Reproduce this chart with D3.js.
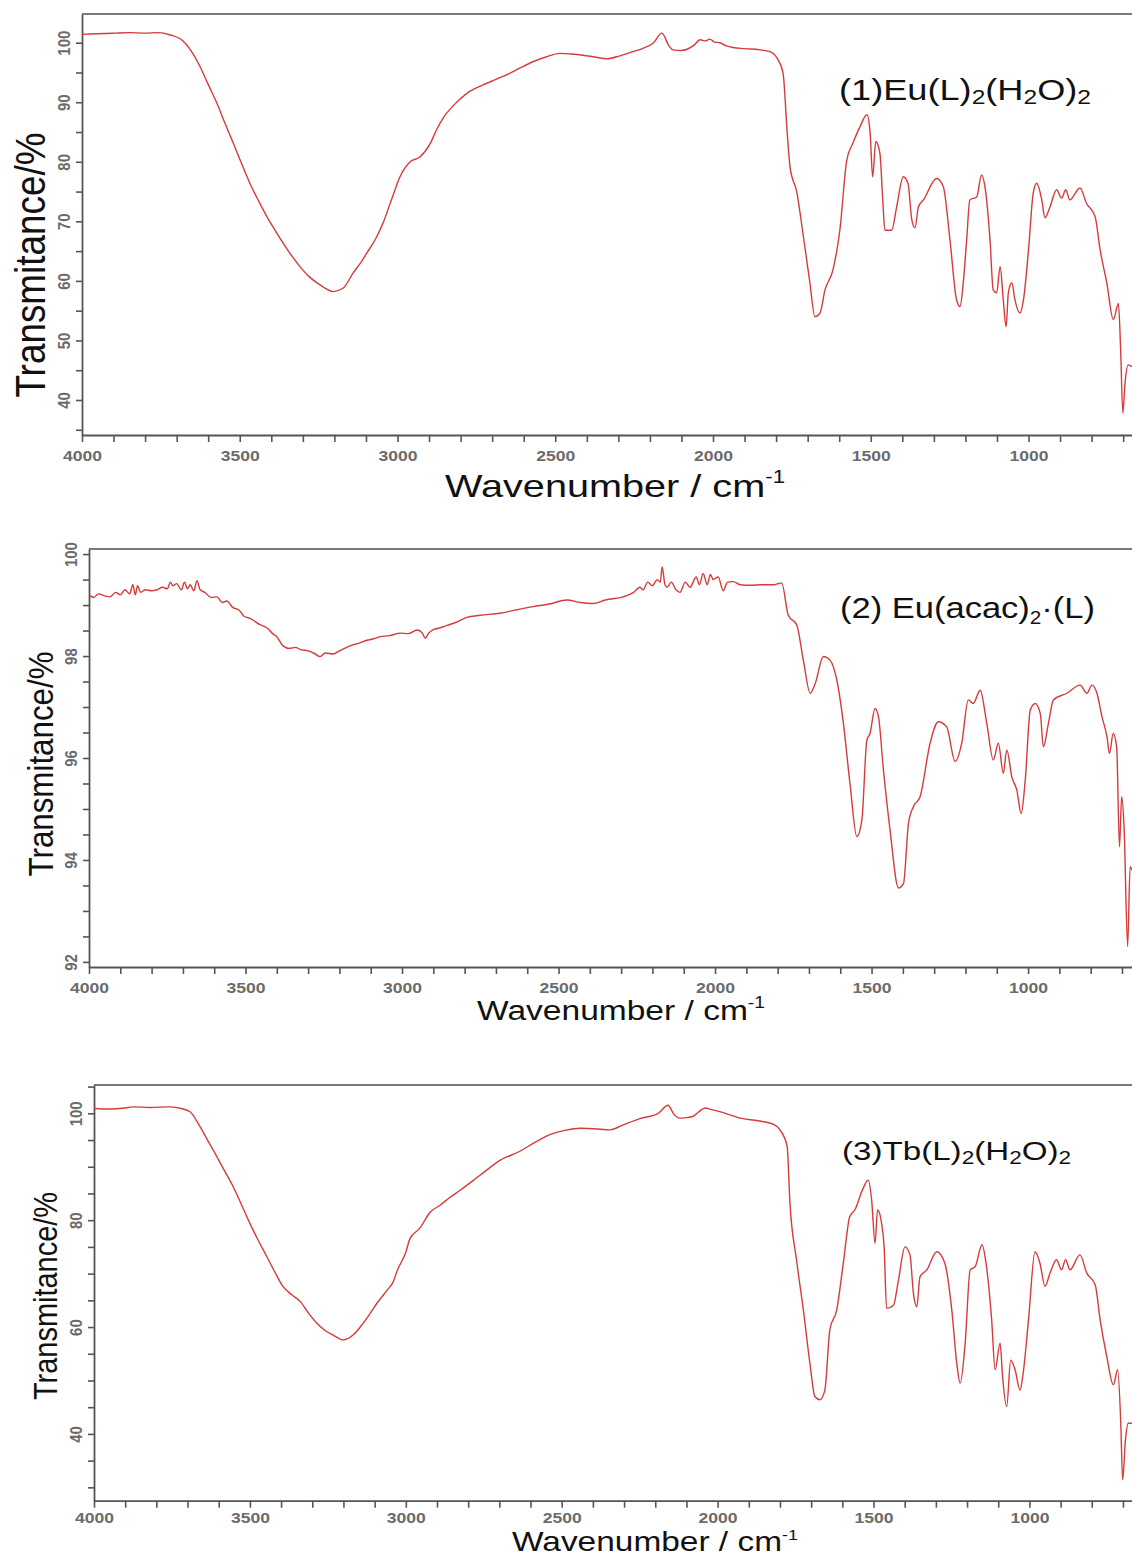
<!DOCTYPE html>
<html>
<head>
<meta charset="utf-8">
<script src="https://cdn.jsdelivr.net/npm/d3@7"></script>
<style>
  body { margin: 0; background: #fff; }
  svg { display: block; font-family: "Liberation Sans", Arial, sans-serif; }
</style>
</head>
<body>
<svg id="chart" width="1132" height="1561"></svg>
<script>
// tick labels
var xLabels = [4000, 3500, 3000, 2500, 2000, 1500, 1000];
var yLabels1 = [40, 50, 60, 70, 80, 90, 100];
var yLabels2 = [92, 94, 96, 98, 100];
var yLabels3 = [40, 60, 80, 100];

// spectra: [wavenumber, transmittance]
var ir1 = [[4000,101.4],[3950,101.5],[3900,101.6],[3850,101.7],[3800,101.6],[3760,101.7],[3720,101.3],[3680,100.3],
  [3650,98.3],[3626,96],[3600,93],[3573,89.9],[3547,86.5],[3521,83.2],[3495,79.8],[3468,76.4],[3440,73.4],
  [3414,70.8],[3388,68.5],[3363,66.4],[3335,64.2],[3309,62.4],[3282,60.8],[3256,59.7],[3230,58.8],[3204,58.2],
  [3172,58.8],[3141,61.3],[3120,62.8],[3097,64.7],[3070,67],[3046,69.7],[3020,73.5],[2992,77.5],[2960,80],
  [2929,80.8],[2897,83],[2875,85.5],[2856,87.3],[2820,89.6],[2780,91.5],[2729,92.9],[2690,93.8],[2643,94.9],
  [2610,95.8],[2571,96.8],[2530,97.6],[2485,98.2],[2450,98.1],[2412,97.9],[2375,97.6],[2336,97.3],[2295,97.8],
  [2254,98.5],[2220,99.1],[2190,99.9],[2162,101.6],[2140,99.5],[2127,98.8],[2100,98.7],[2082,98.9],[2060,99.6],
  [2041,100.5],[2025,100.3],[2010,100.6],[1995,100.1],[1978,100],[1960,99.5],[1937,99.2],[1900,99],[1851,98.8],
  [1820,98.5],[1797,97.4],[1778,94.9],[1765,85],[1756,79.2],[1734,74.8],[1715,68],[1693,59.7],[1677,54],
  [1661,54.6],[1645,58.5],[1620,61.8],[1598,68.5],[1576,80.3],[1556,83.2],[1534,85.9],[1512,87.9],[1502,84.8],
  [1494,77.5],[1484,83.4],[1471,81.4],[1462,73.6],[1455,68.5],[1434,68.5],[1418,72.4],[1397,77.5],[1382,76.4],
  [1370,70.3],[1360,68.9],[1349,72.4],[1333,73.6],[1291,77.2],[1270,75.8],[1249,66.9],[1228,56.8],[1217,55.7],
  [1207,59.6],[1196,66.9],[1186,73.6],[1164,74.1],[1149,77.8],[1138,75.8],[1122,66.9],[1112,58.5],[1101,58],
  [1090,62.4],[1080,56.8],[1071,52.3],[1064,58],[1053,59.7],[1043,56.8],[1027,54.6],[1016,56.8],[1000,65.2],
  [985,74.8],[974,76.4],[958,73.6],[948,70.6],[932,72.4],[911,75.3],[895,73.9],[882,75.3],[869,73.6],[837,75.6],
  [816,73],[789,70.8],[773,65.2],[752,59.7],[731,53.5],[715,56.2],[708,48.4],[701,37.8],[694,42.9],[684,45.9],
  [672,45.6]];

var ir2 = [[4000,99.2],[3985,99.15],[3970,99.22],[3950,99.18],[3933,99.16],[3915,99.25],[3900,99.2],[3885,99.3],
  [3870,99.22],[3860,99.4],[3852,99.2],[3845,99.38],[3835,99.25],[3820,99.3],[3800,99.28],[3783,99.3],[3765,99.35],
  [3750,99.32],[3740,99.45],[3732,99.38],[3720,99.42],[3705,99.3],[3695,99.45],[3685,99.32],[3677,99.4],[3665,99.28],
  [3655,99.48],[3645,99.3],[3630,99.25],[3610,99.15],[3591,99.16],[3575,99.05],[3560,99.08],[3540,98.95],[3520,98.9],
  [3505,98.78],[3486,98.74],[3470,98.68],[3455,98.62],[3440,98.58],[3431,98.55],[3415,98.45],[3400,98.38],[3380,98.2],
  [3360,98.15],[3340,98.17],[3326,98.13],[3300,98.1],[3280,98.05],[3262,97.99],[3245,98.06],[3220,98.04],[3200,98.1],
  [3180,98.16],[3166,98.2],[3140,98.25],[3112,98.31],[3090,98.34],[3070,98.38],[3040,98.4],[3006,98.45],[2980,98.44],
  [2952,98.51],[2935,98.45],[2926,98.35],[2915,98.45],[2900,98.52],[2880,98.55],[2856,98.6],[2820,98.68],[2793,98.76],
  [2750,98.8],[2687,98.84],[2640,98.9],[2581,98.97],[2530,99.02],[2473,99.1],[2430,99.05],[2390,99.03],[2350,99.1],
  [2294,99.16],[2260,99.25],[2240,99.35],[2230,99.3],[2215,99.45],[2200,99.38],[2185,99.5],[2175,99.45],[2169,99.75],
  [2160,99.4],[2153,99.35],[2140,99.45],[2125,99.3],[2112,99.25],[2095,99.45],[2080,99.35],[2060,99.55],[2050,99.4],
  [2038,99.62],[2025,99.4],[2015,99.6],[2006,99.5],[1990,99.55],[1974,99.28],[1960,99.45],[1942,99.46],[1920,99.4],
  [1888,99.39],[1850,99.4],[1810,99.4],[1792,99.43],[1787,99.43],[1766,98.8],[1739,98.61],[1718,97.92],[1696,97.27],
  [1680,97.46],[1654,97.99],[1633,97.92],[1611,97.53],[1590,96.68],[1569,95.5],[1547,94.46],[1531,94.78],[1515,96.35],
  [1505,96.48],[1489,96.97],[1478,96.81],[1462,95.76],[1441,94.59],[1414,93.45],[1398,93.54],[1382,94.72],[1366,95.05],
  [1345,95.24],[1313,96.29],[1287,96.71],[1260,96.61],[1233,95.93],[1212,96.29],[1191,97.14],[1175,97.07],[1153,97.33],
  [1132,96.68],[1111,95.96],[1095,96.29],[1079,95.7],[1068,96.16],[1052,95.63],[1036,95.37],[1022,94.91],[1009,95.57],
  [993,96.94],[977,97.07],[961,96.87],[951,96.22],[935,96.68],[919,97.14],[876,97.27],[834,97.43],[812,97.27],
  [796,97.43],[780,97.27],[764,96.81],[748,96.42],[740,96.09],[728,96.48],[717,96.22],[708,94.26],[701,95.24],
  [693,94.59],[682,92.3],[674,93.87],[668,93.8]];

var ir3 = [[4000,100.9],[3950,100.8],[3900,101],[3875,101.2],[3820,101.1],[3756,101.2],[3720,100.9],[3692,100.3],
  [3660,97.5],[3633,94.7],[3606,91.9],[3580,89.1],[3554,86.3],[3527,82.9],[3500,79.4],[3473,76.2],[3446,73.2],
  [3420,70.3],[3394,67.6],[3365,66],[3339,64.8],[3312,62.6],[3285,60.7],[3260,59.4],[3233,58.5],[3201,57.6],
  [3169,58.5],[3137,60.7],[3115,62.5],[3092,64.5],[3060,66.9],[3040,68.5],[3028,70.5],[3000,74],[2987,76.5],
  [2955,78.5],[2922,81.5],[2890,82.8],[2860,84.2],[2826,85.6],[2762,88.4],[2698,91.2],[2634,92.9],[2585,94.6],
  [2538,96],[2490,96.8],[2441,97.2],[2395,97.1],[2345,96.9],[2300,97.9],[2249,99],[2190,100],[2159,101.5],
  [2140,99.8],[2121,99.1],[2100,99.2],[2080,99.4],[2060,100.3],[2040,101],[2020,100.7],[2000,100.4],[1960,99.7],
  [1928,99.1],[1870,98.6],[1816,97.8],[1800,96.9],[1777,93.8],[1768,83.2],[1747,72.6],[1725,63.2],[1704,53.2],
  [1688,47],[1672,46.4],[1656,48.2],[1640,59.5],[1618,63.2],[1597,71.9],[1576,80.7],[1560,81.9],[1533,86],
  [1517,87.5],[1506,83.8],[1495,75.7],[1487,81.9],[1474,79.4],[1466,75],[1458,63.5],[1436,64.1],[1420,68.8],
  [1399,75],[1383,73.5],[1372,66.3],[1361,63.8],[1351,69.4],[1329,70.7],[1297,74.1],[1271,71.9],[1249,63.2],
  [1233,53.2],[1222,49.5],[1206,57],[1190,70.7],[1174,71.3],[1152,75.4],[1139,71.9],[1121,61.3],[1110,52],
  [1094,57],[1086,50.7],[1073,45.1],[1060,53.8],[1046,52],[1030,48.2],[1020,51.4],[1003,61.3],[982,74.1],
  [966,71.9],[950,67.6],[934,70.1],[913,72.6],[897,70.7],[884,72.6],[870,70.7],[838,73.5],[816,70.1],[789,67.9],
  [773,61.3],[752,54.5],[731,49.2],[717,52],[707,42],[701,31.4],[692,38.9],[683,42],[671,42]];

var svg = d3.select("#chart");
var font = "'Liberation Sans', Arial, sans-serif";

var panels = [
  {data: ir1, left: 82, top: 14, bottom: 435, xEnd: 672, yDom: [34.12, 104.82], yStep: 5, yLabels: yLabels1,
   tickY: 25.5,
   yTitle: {x: 45, y: 265, cap: 30, len: 265},
   xTitle: {x: 445, y: 497, cap: 23, w: 340, sup: 18, raise: 14},
   label: {x: 839, y: 100, cap: 21.7, w: 252, sub: 0.68, drop: 4,
           parts: [["(1)Eu(L)", 0], ["2", 1], ["(H", 0], ["2", 1], ["O)", 0], ["2", 1]]}},
  {data: ir2, left: 89, top: 549, bottom: 967, xEnd: 668, yDom: [91.9, 100.1], yStep: 0.5, yLabels: yLabels2,
   tickY: 25.5,
   yTitle: {x: 53, y: 764, cap: 25, len: 225},
   xTitle: {x: 477, y: 1020, cap: 20, w: 288, sup: 16, raise: 12},
   label: {x: 840, y: 618, cap: 21.7, w: 255, sub: 0.6, drop: 6,
           parts: [["(2) Eu(acac)", 0], ["2", 1], ["\u00b7(L)", 0]]}},
  {data: ir3, left: 94, top: 1085, bottom: 1500.7, xEnd: 671, yDom: [27.5, 105.3], yStep: 5, yLabels: yLabels3,
   tickY: 22.5,
   yTitle: {x: 57, y: 1296, cap: 24, len: 208},
   xTitle: {x: 512, y: 1551, cap: 20, w: 286, sup: 15, raise: 11},
   label: {x: 842, y: 1160, cap: 18.5, w: 229, sub: 0.68, drop: 4,
           parts: [["(3)Tb(L)", 0], ["2", 1], ["(H", 0], ["2", 1], ["O)", 0], ["2", 1]]}}
];

panels.forEach(drawPanel);

function drawPanel(p) {
  var width = 1132;

  var x = d3.scaleLinear()
      .domain([4000, p.xEnd])
      .range([p.left, width]);

  var y = d3.scaleLinear()
      .domain(p.yDom)
      .range([p.bottom, p.top]);

  var g = svg.append("g");

  // top frame line
  g.append("line")
      .attr("x1", p.left).attr("x2", width)
      .attr("y1", p.top).attr("y2", p.top)
      .attr("stroke", "#7a7a7a")
      .attr("stroke-width", 2);

  // x axis
  var xTicks = d3.range(4000, 699, -100);
  var xa = g.append("g")
      .attr("transform", "translate(0," + p.bottom + ")")
      .call(d3.axisBottom(x)
        .tickValues(xTicks)
        .tickSize(7)
        .tickSizeOuter(0)
        .tickFormat(d => xLabels.includes(d) ? d : ""));

  // y axis
  var yTicks = d3.range(Math.ceil(p.yDom[0] / p.yStep), Math.floor(p.yDom[1] / p.yStep) + 1)
      .map(k => +(k * p.yStep).toFixed(2));
  var ya = g.append("g")
      .attr("transform", "translate(" + p.left + ",0)")
      .call(d3.axisLeft(y)
        .tickValues(yTicks)
        .tickSize(6)
        .tickSizeOuter(0)
        .tickFormat(d => p.yLabels.includes(d) ? d : ""));

  [xa, ya].forEach(function(a) {
    a.select(".domain").attr("stroke", "#555").attr("stroke-width", 1.8);
    a.selectAll(".tick line").attr("stroke", "#555").attr("stroke-width", 1.6);
    a.selectAll("text")
        .attr("font-family", font)
        .attr("font-weight", "bold")
        .attr("fill", "#6b6b6b");
  });

  xa.selectAll("text")
      .attr("font-size", 15)
      .attr("y", null)
      .attr("dy", null)
      .attr("transform", "translate(0," + p.tickY + ") scale(1.17,1)");

  ya.selectAll("text")
      .attr("font-size", 15)
      .attr("x", null)
      .attr("dy", null)
      .attr("text-anchor", "middle")
      .attr("transform", "translate(-12.5,0) rotate(-90) scale(1,1.12)");

  // spectrum
  var line = d3.line()
      .curve(d3.curveMonotoneX)
      .x(d => x(d[0]))
      .y(d => y(d[1]));

  g.append("path")
      .datum(p.data)
      .attr("fill", "none")
      .attr("stroke", "#d63b3b")
      .attr("stroke-width", 1.4)
      .attr("stroke-linejoin", "round")
      .attr("d", line);

  // y title (rotated)
  var yt = g.append("text")
      .attr("font-family", font)
      .attr("font-size", p.yTitle.cap / 0.716)
      .attr("text-anchor", "middle")
      .attr("fill", "#111")
      .text("Transmitance/%");
  var yl = yt.node().getComputedTextLength();
  yt.attr("transform", "translate(" + p.yTitle.x + "," + p.yTitle.y + ") rotate(-90) scale(" + (p.yTitle.len / yl) + ",1)");

  // x title with superscript
  var xt = g.append("text")
      .attr("font-family", font)
      .attr("font-size", p.xTitle.cap / 0.716)
      .attr("fill", "#111");
  xt.append("tspan").text("Wavenumber / cm");
  xt.append("tspan")
      .attr("font-size", p.xTitle.sup)
      .attr("dy", -p.xTitle.raise)
      .text("-1");
  var xw = xt.node().getBBox().width;
  xt.attr("transform", "translate(" + p.xTitle.x + "," + p.xTitle.y + ") scale(" + (p.xTitle.w / xw) + ",1)");

  // compound label with subscripts
  var lb = g.append("text")
      .attr("font-family", font)
      .attr("font-size", p.label.cap / 0.716)
      .attr("fill", "#111");
  var shifted = false;
  p.label.parts.forEach(function(part) {
    var t = lb.append("tspan").text(part[0]);
    if (part[1]) {
      t.attr("font-size", p.label.cap / 0.716 * p.label.sub);
      if (!shifted) { t.attr("dy", p.label.drop); shifted = true; }
    } else if (shifted) {
      t.attr("dy", -p.label.drop); shifted = false;
    }
  });
  var lw = lb.node().getBBox().width;
  lb.attr("transform", "translate(" + p.label.x + "," + p.label.y + ") scale(" + (p.label.w / lw) + ",1)");
}
</script>
</body>
</html>
